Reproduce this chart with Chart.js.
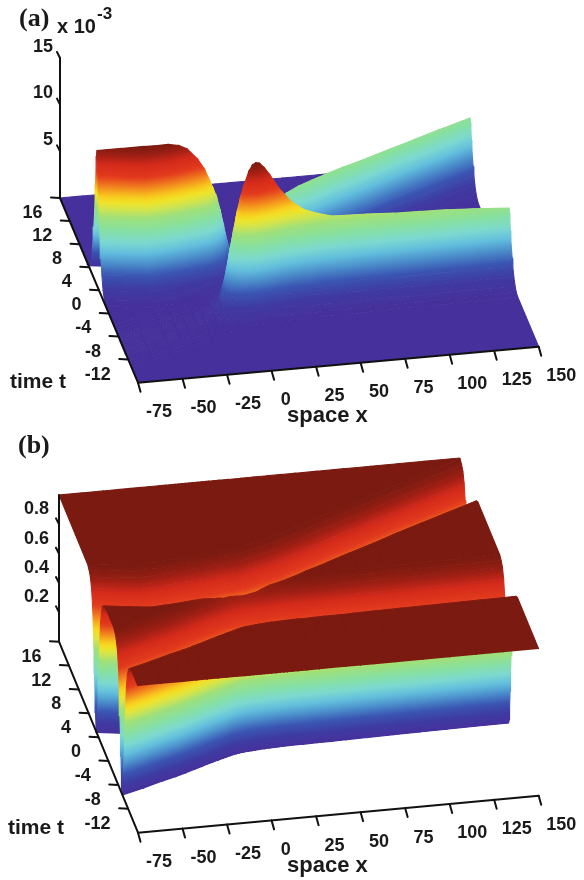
<!DOCTYPE html>
<html><head><meta charset="utf-8">
<script src="https://cdn.jsdelivr.net/npm/chart.js@4"></script>
<style>html,body{margin:0;padding:0;background:#fff}canvas{display:block}</style>
</head><body>
<canvas id="pa" width="584" height="428"></canvas>
<canvas id="pb" width="584" height="452"></canvas>
<script>
// ---- values ----
const xCols=[-75,-62,-50,-42,-36,-30,-25,-19,-15,-12,-10,-8,-6,-4,-2,0,3,5,7,9,12,15,20,27,34,42,50,58,70,85,100,115,130,150];
const track1T=[0.8,0.3,-0.1,0,0.1,0.25,0.4,0.5,0.55,0.6,0.7,0.75,0.8,0.9,0.95,1,1,1.05,1.1,1.2,1.3,1.5,1.8,2.2,2.7,3.4,4.0,4.7,5.7,6.9,8.2,9.4,10.6,12.2];
const track2T=[-9.7,-8.85,-8,-7.5,-7.05,-6.6,-6.2,-5.75,-5.45,-5.25,-5.1,-4.95,-4.82,-4.72,-4.64,-4.58,-4.5,-4.46,-4.42,-4.38,-4.34,-4.3,-4.25,-4.2,-4.2,-4.15,-4.15,-4.1,-4.05,-4,-3.95,-3.9,-3.85,-3.8];
const heightA1=[14.5,14.8,15.05,14.95,14.9,14.6,14.05,12.8,11.6,10.3,9.4,8.4,7,5.3,3.6,2.4,1.2,0.8,0.7,1,2,3.2,5,6.2,6.9,7.1,7.2,7.2,7.2,7.15,7.1,7.1,7.1,7.07];
const heightA2=[0,0,0,0,0,0.1,0.2,0.5,1.4,3,4.5,6.5,8.2,10,11.5,12.7,14.2,14.8,15,14.9,14.3,13.5,12,10.4,9.4,8.8,8.4,8.3,8.2,8,7.9,7.8,7.6,7.3];
const offsets=[0,0.2,0.4,0.6,0.8,1,1.3,1.6,2,2.5,3,3.6];
const shapeA=[1,0.95,0.84,0.72,0.6,0.5,0.38,0.27,0.16,0.07,0.02,0];
const shapeB=[1,0.97,0.88,0.76,0.63,0.5,0.33,0.2,0.1,0.04,0.015,0];
const xTicks=[-75,-50,-25,0,25,50,75,100,125,150];
const tTicks=[16,12,8,4,0,-4,-8,-12];
const zTicksA=[5,10,15];
const zTicksB=[0.2,0.4,0.6,0.8];
const ramp=[[0,'#46309b'],[0.08,'#3f3aa2'],[0.16,'#3a55b2'],[0.23,'#4a8cca'],[0.3,'#62bedd'],[0.37,'#7cd9cf'],[0.45,'#87e0a0'],[0.53,'#a0e078'],[0.58,'#d0e450'],[0.63,'#f2e426'],[0.67,'#f8c81e'],[0.73,'#f2851e'],[0.8,'#e2391d'],[0.88,'#d42a1b'],[0.94,'#a11f14'],[1,'#7a1a10']];

// ---- view of each panel ----
const viewA={ox:138,oy:382.7,ux:400.7,uy:-36,vx:-78,vy:-184.7,zk:140/15,zMax:15,zTop:15,top:0,h:428};
const viewB={ox:138,oy:832.7,ux:400.7,uy:-37,vx:-79,vy:-191,zk:146.7,zMax:1,zTop:1,top:428,h:452};

function project(v,x,t,z){
  const u=(x+75)/225,w=(t+16)/32;
  return {x:v.ox+v.ux*u+v.vx*w,y:v.oy+v.uy*u+v.vy*w-v.zk*z};
}
function shapeAt(tbl,d){
  d=Math.abs(d);
  for(let i=1;i<offsets.length;i++){
    if(d<=offsets[i]){const f=(d-offsets[i-1])/(offsets[i]-offsets[i-1]);return tbl[i-1]+(tbl[i]-tbl[i-1])*f;}
  }
  return 0;
}
function hex(c){return [1,3,5].map(i=>parseInt(c.substr(i,2),16));}
function colorAt(f){
  f=Math.max(0,Math.min(1,f));
  for(let i=1;i<ramp.length;i++){
    if(f<=ramp[i][0]){
      const g=(f-ramp[i-1][0])/(ramp[i][0]-ramp[i-1][0]),a=hex(ramp[i-1][1]),b=hex(ramp[i][1]);
      return 'rgb('+a.map((q,k)=>Math.round(q+(b[k]-q)*g)).join(',')+')';
    }
  }
  return ramp[ramp.length-1][1];
}
const signedOffsets=offsets.slice(1).reverse().map(d=>-d).concat(offsets);

// colour direction of a cell: the plane through its four corners, so colour bands run along true height lines
function shade(corners,zMax){
  const zs=corners.map(c=>c.z/zMax),ps=corners.map(c=>c.p);
  const zLo=Math.min(...zs),zHi=Math.max(...zs);
  const mx=ps.reduce((s,p)=>s+p.x,0)/4,my=ps.reduce((s,p)=>s+p.y,0)/4,mz=zs.reduce((s,z)=>s+z,0)/4;
  let xx=0,xy=0,yy=0,xz=0,yz=0;
  ps.forEach((p,i)=>{const a=p.x-mx,b=p.y-my,c=zs[i]-mz;xx+=a*a;xy+=a*b;yy+=b*b;xz+=a*c;yz+=b*c;});
  const det=xx*yy-xy*xy;
  if(zHi-zLo<0.012||det<1)return {flat:mz};
  const gx=(yy*xz-xy*yz)/det,gy=(xx*yz-xy*xz)/det,g2=gx*gx+gy*gy;
  if(!(g2>1e-9))return {flat:mz};
  return {zLo,zHi,
    m0:{x:mx+gx*(zLo-mz)/g2,y:my+gy*(zLo-mz)/g2},
    m1:{x:mx+gx*(zHi-mz)/g2,y:my+gy*(zHi-mz)/g2}};
}
function surface(view,zFn){
  const grid=xCols.map((x,i)=>{
    const s=Math.min(1,(track1T[i]-track2T[i])/7.2),rows=[-16];
    signedOffsets.forEach(d=>rows.push(track2T[i]+(d>0?d*s:d)));
    signedOffsets.forEach(d=>rows.push(track1T[i]+(d<0?d*s:d)));
    rows.push(16);
    return rows.map(t=>{const z=zFn(i,t);return {t,z,p:project(view,x,t,z)};});
  });
  const quads=[];
  for(let i=0;i<xCols.length-1;i++){
    for(let j=0;j<grid[i].length-1;j++){
      const a=grid[i][j],b=grid[i][j+1],c=grid[i+1][j+1],d=grid[i+1][j];
      if(a.t===b.t&&c.t===d.t)continue;
      const ct=(a.t+b.t+c.t+d.t)/4,cx=(xCols[i]+xCols[i+1])/2;
      const fl=project(view,cx,ct,0);
      quads.push({depth:fl.y,pts:[a.p,b.p,c.p,d.p],shade:shade([a,b,c,d],view.zMax)});
    }
  }
  quads.sort((q,r)=>r.depth-q.depth); // nearest first: first dataset is on top
  return quads;
}
function paint(q){
  const s=q.shade;
  if(s.flat!==undefined)return colorAt(s.flat);
  const flat=colorAt((s.zLo+s.zHi)/2);
  let cached=null;
  return function(ctx){
    if(cached)return cached;
    const ch=ctx.chart,sx=ch.scales&&ch.scales.x,sy=ch.scales&&ch.scales.y;
    if(!sx||!sy)return flat;
    const pts=[sx.getPixelForValue(s.m0.x),sy.getPixelForValue(s.m0.y),sx.getPixelForValue(s.m1.x),sy.getPixelForValue(s.m1.y)];
    if(!pts.every(Number.isFinite)||!(sx.width>0))return flat;
    const g=ch.ctx.createLinearGradient(pts[0],pts[1],pts[2],pts[3]);
    for(let k=0;k<=6;k++)g.addColorStop(k/6,colorAt(s.zLo+(s.zHi-s.zLo)*k/6));
    cached=g;return g;
  };
}
function axisSets(view,zTicks){
  const sets=[],line=(pts,w)=>sets.push({data:pts,borderColor:'#111',borderWidth:w||2,fill:false,pointRadius:0,tension:0,borderCapStyle:'round',borderJoinStyle:'round'});
  const A=project(view,-75,16,0),F=project(view,-75,-16,0),R=project(view,150,-16,0),T=project(view,-75,16,view.zTop);
  line([T,A,F,R]);
  xTicks.forEach(x=>{const p=project(view,x,-16,0);line([p,{x:p.x+2.5,y:p.y+9}]);});
  tTicks.forEach(t=>{const p=project(view,-75,t,0);line([p,{x:p.x-9,y:p.y-0.5}]);});
  zTicks.forEach(z=>{const p=project(view,-75,16,z);line([p,{x:p.x-3,y:p.y-6}]);});
  return sets;
}
function textPlugin(view,fn){
  return {id:'labels',afterDraw(chart){
    const c=chart.ctx,sx=chart.scales.x,sy=chart.scales.y;
    const put=(s,x,y,font,align)=>{c.font=font;c.textAlign=align||'left';c.textBaseline='alphabetic';c.fillStyle='#1a1a1a';c.fillText(s,sx.getPixelForValue(x),sy.getPixelForValue(y));};
    const num='bold 18px "Liberation Sans"';
    c.save();
    xTicks.forEach(x=>{const p=project(view,x,-16,0);c.font=num;const w=c.measureText(String(x)).width;put(String(x),p.x+10+w*0.42,p.y+34.5,num,'center');});
    tTicks.forEach(t=>{const p=project(view,-75,t,0);put(String(t),p.x-17.5,p.y+20,num,'right');});
    fn(put,num);
    c.restore();
  }};
}
function makeChart(id,view,zFn,zTicks,fn){
  const quads=surface(view,zFn);
  const sets=axisSets(view,zTicks);
  quads.forEach(q=>{const col=paint(q);sets.push({data:q.pts,fill:'shape',backgroundColor:col,borderColor:col,borderWidth:1.1,pointRadius:0,tension:0});});
  return new Chart(document.getElementById(id),{type:'scatter',data:{datasets:sets.map(s=>Object.assign({showLine:true},s))},
    options:{responsive:false,animation:false,events:[],layout:{padding:0},
      plugins:{legend:{display:false},tooltip:{enabled:false},title:{display:false}},
      scales:{x:{type:'linear',display:false,min:0,max:584},y:{type:'linear',display:false,min:view.top,max:view.top+view.h,reverse:true}}},
    plugins:[textPlugin(view,fn)]});
}
makeChart('pa',viewA,(i,t)=>heightA1[i]*shapeAt(shapeA,t-track1T[i])+heightA2[i]*shapeAt(shapeA,t-track2T[i]),zTicksA,(put,num)=>{
  put('(a)',19,26,'bold 26px "Liberation Serif"');
  put('x 10',57,33,'bold 20px "Liberation Sans"');
  put('-3',97,19,'bold 17px "Liberation Sans"');
  zTicksA.forEach(z=>{const p=project(viewA,-75,16,z);put(String(z),53,p.y-6.5,num,'right');});
  put('time t',10,388,'bold 21px "Liberation Sans"');
  put('space x',287,422,'bold 22px "Liberation Sans"');
});
makeChart('pb',viewB,(i,t)=>Math.max(0,1-shapeAt(shapeB,t-track1T[i])-shapeAt(shapeB,t-track2T[i])),zTicksB,(put,num)=>{
  put('(b)',18,453,'bold 26px "Liberation Serif"');
  zTicksB.forEach(z=>{const p=project(viewB,-75,16,z);put(z.toFixed(1),49,p.y-10,num,'right');});
  put('time t',8,834,'bold 21px "Liberation Sans"');
  put('space x',287,872,'bold 22px "Liberation Sans"');
});
</script>
</body></html>
